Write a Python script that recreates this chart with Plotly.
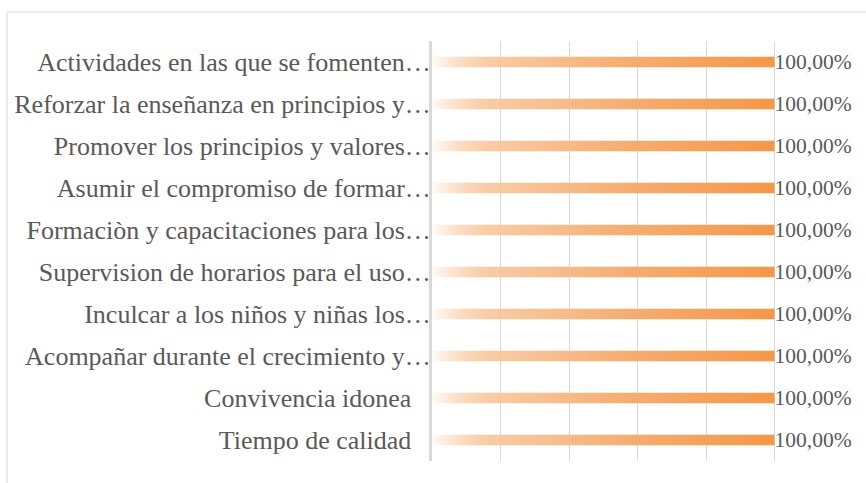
import plotly.graph_objects as go

categories = [
    "Actividades en las que se fomenten…",
    "Reforzar la enseñanza en principios y…",
    "Promover los principios y valores…",
    "Asumir el compromiso de formar…",
    "Formaciòn y capacitaciones para los…",
    "Supervision de horarios para el uso…",
    "Inculcar a los niños y niñas los…",
    "Acompañar durante el crecimiento y…",
    "Convivencia idonea\u00a0\u00a0\u00a0",
    "Tiempo de calidad\u00a0\u00a0\u00a0",
]
values = [1.0, 1.0, 1.0, 1.0, 1.0, 1.0, 1.0, 1.0, 1.0, 1.0]

FONT = "Liberation Serif"
TXT = "#595959"
half = 0.125

gradient = [
    [0.0, "rgba(247,150,70,0.03)"],
    [0.22, "#f9c89e"],
    [0.55, "#f7ae72"],
    [1.0, "#f79646"],
]

fig = go.Figure()
for i, v in enumerate(values):
    fig.add_trace(go.Scatter(
        x=[0, v, v, 0, 0],
        y=[i - half, i - half, i + half, i + half, i - half],
        mode="lines", line=dict(width=0), fill="toself",
        fillgradient=dict(type="horizontal", colorscale=gradient),
        hoverinfo="skip", showlegend=False,
    ))

fig.add_trace(go.Scatter(
    x=values, y=[i + 0.03 for i in range(len(values))], mode="text",
    text=[f"{v*100:.2f}%".replace(".", ",") for v in values],
    textposition="middle right",
    textfont=dict(family=FONT, size=21.5, color=TXT),
    showlegend=False, hoverinfo="skip", cliponaxis=False,
))

fig.update_layout(
    width=866, height=483,
    margin=dict(l=432, r=23, t=41, b=22),
    paper_bgcolor="white", plot_bgcolor="white",
    font=dict(family=FONT, size=20, color=TXT),
    xaxis=dict(range=[0, 1.2], dtick=0.2, showgrid=True, gridcolor="#d9d9d9",
               gridwidth=1, zeroline=False, showticklabels=False, fixedrange=True),
    yaxis=dict(range=[len(values) - 0.5, -0.5], tickvals=list(range(len(values))),
               ticktext=categories, showgrid=False, zeroline=False,
               showline=True, linecolor="#d9d9d9", linewidth=3, ticks="",
               ticklabelstandoff=-7, fixedrange=True,
               tickfont=dict(family=FONT, size=26, color=TXT)),
    shapes=[dict(type="rect", xref="paper", yref="paper",
                 x0=(7 - 432) / 411, x1=1.2, y0=-0.3, y1=1 + 29 / 420,
                 line=dict(color="#d9d9d9", width=1), layer="below")],
)

fig.write_html("out.html", config={"displayModeBar": False},
               post_script="document.body.style.margin='0';")
